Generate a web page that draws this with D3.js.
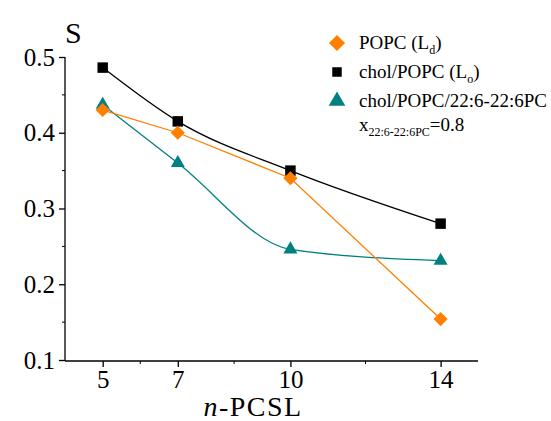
<!DOCTYPE html>
<html>
<head>
<meta charset="utf-8">
<script src="https://d3js.org/d3.v7.min.js"></script>
<style>
  body { margin: 0; background: #fff; }
</style>
</head>
<body>
<div id="chart"></div>
<script>
// chain length of the probe
var chainLength = [5, 7, 10, 14];
// order parameter S for each system
var popcS = [0.43, 0.40, 0.34, 0.154];
var cholPopcS = [0.486, 0.415, 0.35, 0.28];
var dhaS = [0.437, 0.36, 0.246, 0.231];

var yTicks = [0.1, 0.2, 0.3, 0.4, 0.5];
var yMinorTicks = [0.15, 0.25, 0.35, 0.45];
var xMinorTicks = [6, 8.5, 12];

var w = 551;
var h = 421;
var serif = "'Liberation Serif', 'Times New Roman', 'DejaVu Serif', serif";

var svg = d3.select("#chart").append("svg").attr("width", w).attr("height", h)
  .attr("font-family", serif);

//scales
var xScale = d3.scaleLinear().domain([5, 14]).range([102.7, 440.6]);
var yScale = d3.scaleLinear().domain([0.1, 0.5]).range([360, 57]);

//y axis
var yAxis = d3.axisLeft(yScale).tickValues(yTicks).tickSize(6).tickPadding(4)
  .tickFormat(d3.format(".1f"));
var gy = svg.append("g").attr("transform", "translate(65,0)").call(yAxis);
gy.attr("font-family", serif).attr("font-size", 25);
gy.select(".domain").attr("d", "M0," + yScale(0.5) + "V" + (yScale(0.1) + 1));
gy.append("g").selectAll("line").data(yMinorTicks).enter().append("line")
  .attr("x1", -3).attr("x2", 0)
  .attr("y1", function (d) { return yScale(d); })
  .attr("y2", function (d) { return yScale(d); })
  .attr("stroke", "#000");

//x axis
var xAxis = d3.axisBottom(xScale).tickValues(chainLength).tickSize(6).tickPadding(3);
var gx = svg.append("g").attr("transform", "translate(0,361)").call(xAxis);
gx.attr("font-family", serif).attr("font-size", 25);
gx.select(".domain").attr("d", "M65,0H478");
gx.append("g").selectAll("line").data(xMinorTicks).enter().append("line")
  .attr("x1", function (d) { return xScale(d); })
  .attr("x2", function (d) { return xScale(d); })
  .attr("y1", 0).attr("y2", 3)
  .attr("stroke", "#000");
svg.selectAll(".domain, .tick line").attr("stroke-width", 1.3);

//axis titles
svg.append("text").attr("x", 65).attr("y", 43).attr("font-size", 30).text("S");
var xt = svg.append("text").attr("x", 253).attr("y", 416).attr("text-anchor", "middle")
  .attr("font-size", 28).attr("letter-spacing", 1.5);
xt.append("tspan").attr("font-style", "italic").text("n");
xt.append("tspan").text("-PCSL");

//series
var series = [
  { values: cholPopcS, color: "#000000", curve: d3.curveMonotoneX, shape: d3.symbolSquare, size: 110, rot: 0 },
  { values: dhaS, color: "#008080", curve: d3.curveMonotoneX, shape: d3.symbolTriangle, size: 85, rot: 0 },
  { values: popcS, color: "#FF7F00", curve: d3.curveLinear, shape: d3.symbolSquare, size: 100, rot: 45 }
];

series.forEach(function (s) {
  var pts = chainLength.map(function (x, i) { return [x, s.values[i]]; });
  var line = d3.line()
    .x(function (d) { return xScale(d[0]); })
    .y(function (d) { return yScale(d[1]); })
    .curve(s.curve);
  svg.append("path").datum(pts).attr("d", line)
    .attr("fill", "none").attr("stroke", s.color).attr("stroke-width", 1.3);
  svg.append("g").selectAll("path").data(pts).enter().append("path")
    .attr("d", d3.symbol().type(s.shape).size(s.size))
    .attr("transform", function (d) {
      return "translate(" + xScale(d[0]) + "," + yScale(d[1]) + ") rotate(" + s.rot + ")";
    })
    .attr("fill", s.color);
});

//legend
var legendItems = [
  { color: "#FF7F00", shape: d3.symbolSquare, size: 130, rot: 45, main: "POPC (L", sub: "d", end: ")" },
  { color: "#000000", shape: d3.symbolSquare, size: 90, rot: 0, main: "chol/POPC (L", sub: "o", end: ")" },
  { color: "#008080", shape: d3.symbolTriangle, size: 120, rot: 0, main: "chol/POPC/22:6-22:6PC", sub: "", end: "" }
];
var legendY = [43, 72, 101];

var legend = svg.append("g").attr("font-size", 19);
legendItems.forEach(function (d, i) {
  legend.append("path")
    .attr("d", d3.symbol().type(d.shape).size(d.size))
    .attr("transform", "translate(337," + legendY[i] + ") rotate(" + d.rot + ")")
    .attr("fill", d.color);
  var t = legend.append("text").attr("x", 359).attr("y", legendY[i] + 6);
  t.append("tspan").text(d.main);
  if (d.sub) {
    t.append("tspan").attr("dy", 5).attr("font-size", 12).text(d.sub);
    t.append("tspan").attr("dy", -5).text(d.end);
  }
});
var xl = legend.append("text").attr("x", 359).attr("y", 131);
xl.append("tspan").text("x");
xl.append("tspan").attr("dy", 5).attr("font-size", 12).text("22:6-22:6PC");
xl.append("tspan").attr("dy", -5).text("=0.8");
</script>
</body>
</html>
